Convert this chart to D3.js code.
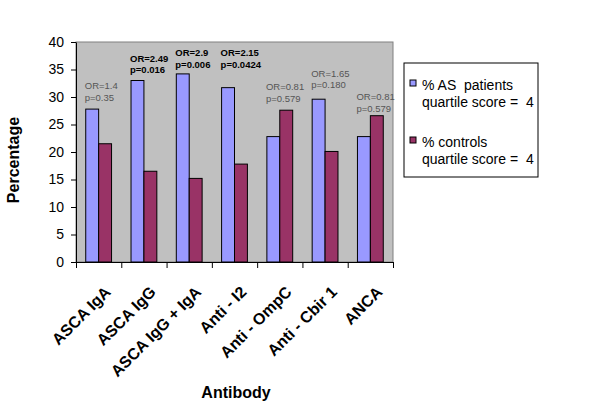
<!DOCTYPE html>
<html>
<head>
<meta charset="utf-8">
<script src="https://cdn.jsdelivr.net/npm/d3@7"></script>
<style>
  body { margin: 0; background: #fff; }
  text { font-family: Arial, "Liberation Sans", sans-serif; }
</style>
</head>
<body>
<svg id="chart" width="600" height="410"></svg>
<script>
// Antibody categories and the two series (percent with quartile score = 4)
var categories = ["ASCA IgA", "ASCA IgG", "ASCA IgG + IgA", "Anti - I2", "Anti - OmpC", "Anti - Cbir 1", "ANCA"];
var asPatients = [27.8, 33.0, 34.2, 31.7, 22.8, 29.6, 22.8];
var controls   = [21.5, 16.5, 15.2, 17.8, 27.6, 20.1, 26.6];

// odds ratio annotations
var orText = ["OR=1.4", "OR=2.49", "OR=2.9", "OR=2.15", "OR=0.81", "OR=1.65", "OR=0.81"];
var pText  = ["p=0.35", "p=0.016", "p=0.006", "p=0.0424", "p=0.579", "p=0.180", "p=0.579"];
var significant = [false, true, true, true, false, false, false];
var annotLevel = [29.3, 34.3, 35.3, 35.3, 29.1, 31.6, 27.3];

var yTicks = [0, 5, 10, 15, 20, 25, 30, 35, 40];
var seriesNames = ["% AS  patients", "% controls"];
var seriesColors = ["#9999ff", "#993366"];

var svg = d3.select("#chart");

var plotLeft = 76, plotRight = 393, plotTop = 42, plotBottom = 262;

var y = d3.scaleLinear().domain([0, 40]).range([plotBottom, plotTop]);
var x0 = d3.scaleBand().domain(categories).range([plotLeft, plotRight])
    .paddingInner(0.43).paddingOuter(0.215);
var x1 = d3.scaleBand().domain([0, 1]).range([0, x0.bandwidth()]);
var xEdge = d3.scaleLinear().domain([0, categories.length]).range([plotLeft, plotRight]);

// plot area
svg.append("rect")
    .attr("x", plotLeft).attr("y", plotTop)
    .attr("width", plotRight - plotLeft).attr("height", plotBottom - plotTop)
    .attr("fill", "#c0c0c0")
    .attr("stroke", "#808080")
    .attr("stroke-width", 1);

// bars
var groups = svg.selectAll("g.grp")
    .data(categories)
    .enter().append("g")
    .attr("class", "grp")
    .attr("transform", function (d) { return "translate(" + x0(d) + ",0)"; });

groups.selectAll("rect")
    .data(function (d, i) { return [asPatients[i], controls[i]]; })
    .enter().append("rect")
    .attr("x", function (d, j) { return x1(j); })
    .attr("y", function (d) { return y(d); })
    .attr("width", x1.bandwidth())
    .attr("height", function (d) { return y(0) - y(d); })
    .attr("fill", function (d, j) { return seriesColors[j]; })
    .attr("stroke", "#000")
    .attr("stroke-width", 1);

// OR / p annotations
groups.each(function (d, i) {
    var g = d3.select(this);
    var t = g.append("text")
        .attr("y", y(annotLevel[i]))
        .attr("font-size", 9.5)
        .attr("font-weight", significant[i] ? "bold" : "normal")
        .attr("fill", significant[i] ? "#000" : "#555");
    t.append("tspan").attr("x", -1).attr("dy", -11.5).text(orText[i]);
    t.append("tspan").attr("x", -1).attr("dy", 11.5).text(pText[i]);
});

// y axis
var yAxis = svg.append("g")
    .attr("transform", "translate(" + plotLeft + ",0)")
    .call(d3.axisLeft(y).tickValues(yTicks).tickSize(5).tickSizeOuter(0).tickPadding(7));
yAxis.selectAll("text").attr("font-size", 14).attr("font-family", "Arial, 'Liberation Sans', sans-serif").attr("fill", "#000");
yAxis.select(".domain").attr("stroke", "#000");

// x axis (ticks on category boundaries)
var xAxis = svg.append("g")
    .attr("transform", "translate(0," + plotBottom + ")")
    .call(d3.axisBottom(xEdge).tickValues(d3.range(categories.length + 1)).tickSize(6).tickSizeOuter(0).tickFormat(""));
xAxis.select(".domain").attr("stroke", "#000");

svg.append("g").selectAll("text")
    .data(categories)
    .enter().append("text")
    .attr("transform", function (d) {
        return "translate(" + (x0(d) + x0.bandwidth() / 2 + 9) + "," + (plotBottom + 27) + ") rotate(-45)";
    })
    .attr("text-anchor", "end")
    .attr("dy", "0.35em")
    .attr("font-size", 16)
    .attr("font-weight", "bold")
    .text(function (d) { return d; });

// axis titles
svg.append("text")
    .attr("x", 236).attr("y", 398)
    .attr("text-anchor", "middle")
    .attr("font-size", 16)
    .attr("font-weight", "bold")
    .text("Antibody");

svg.append("text")
    .attr("transform", "translate(19,160) rotate(-90)")
    .attr("text-anchor", "middle")
    .attr("font-size", 16)
    .attr("font-weight", "bold")
    .text("Percentage");

// legend
var legend = svg.append("g");
legend.append("rect")
    .attr("x", 404).attr("y", 63)
    .attr("width", 134).attr("height", 114)
    .attr("fill", "#fff")
    .attr("stroke", "#000");

seriesNames.forEach(function (name, i) {
    var oy = 80 + i * 57;
    legend.append("rect")
        .attr("x", 410).attr("y", oy)
        .attr("width", 6).attr("height", 6)
        .attr("fill", seriesColors[i])
        .attr("stroke", "#000");
    var t = legend.append("text")
        .attr("y", oy + 10)
        .attr("font-size", 14)
        .style("white-space", "pre");
    t.append("tspan").attr("x", 422).text(name);
    t.append("tspan").attr("x", 422).attr("dy", 17).text("quartile score =  4");
});
</script>
</body>
</html>
